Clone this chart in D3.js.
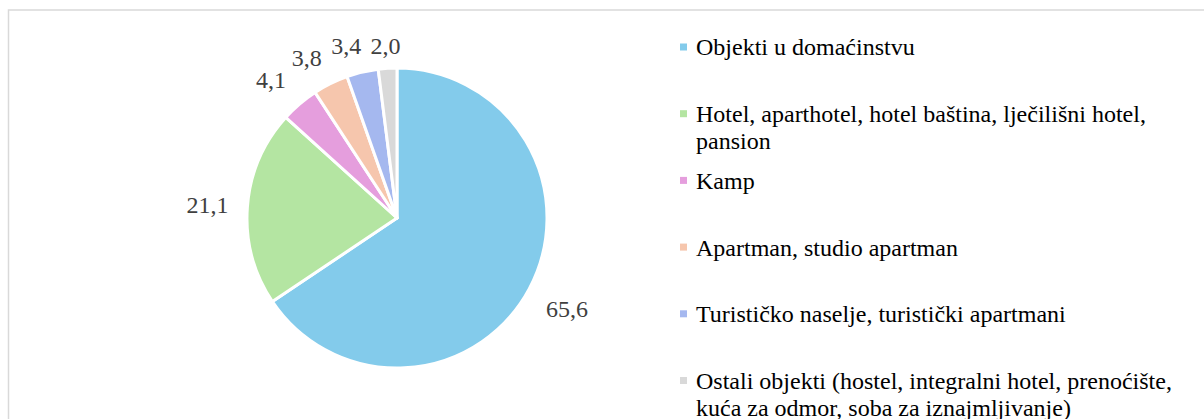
<!DOCTYPE html>
<html>
<head>
<meta charset="utf-8">
<script src="https://cdn.jsdelivr.net/npm/d3@7"></script>
<style>
  body { margin: 0; background: #fff; }
  svg { display: block; }
  .label { font-family: "Liberation Serif", "Times New Roman", serif; font-size: 24px; fill: #404040; }
  .legend text { font-family: "Liberation Serif", "Times New Roman", serif; font-size: 24px; fill: #000; }
</style>
</head>
<body>
<div id="chart"></div>
<script>
// data
const categories = [
  "Objekti u domaćinstvu",
  "Hotel, aparthotel, hotel baština, lječilišni hotel, pansion",
  "Kamp",
  "Apartman, studio apartman",
  "Turističko naselje, turistički apartmani",
  "Ostali objekti (hostel, integralni hotel, prenoćište, kuća za odmor, soba za iznajmljivanje)"
];
const values = [65.6, 21.1, 4.1, 3.8, 3.4, 2.0];
const colours = ["#83CBEB", "#B4E5A2", "#E59EDD", "#F6C6AD", "#A5B8EF", "#D9D9D9"];

const W = 1204, H = 419;
const cx = 397, cy = 218, R = 150;

const svg = d3.select("#chart").append("svg")
  .attr("width", W)
  .attr("height", H);

// frame (goes past right/bottom edge like the reference)
svg.append("rect")
  .attr("x", 8.5).attr("y", 10)
  .attr("width", W + 50).attr("height", H + 50)
  .attr("fill", "none")
  .attr("stroke", "#D9D9D9")
  .attr("stroke-width", 1.5);

const color = d3.scaleOrdinal().domain(categories).range(colours);

const pie = d3.pie().sort(null).value(d => d.v);
const arcs = pie(categories.map((c, i) => ({ c: c, v: values[i] })));

const arc = d3.arc().innerRadius(0).outerRadius(R);

const g = svg.append("g").attr("transform", `translate(${cx}, ${cy})`);

g.selectAll("path")
  .data(arcs)
  .enter()
  .append("path")
  .attr("d", arc)
  .attr("fill", d => color(d.data.c))
  .attr("stroke", "#fff")
  .attr("stroke-width", 3)
  .attr("stroke-linejoin", "round");

// labels outside end (box edge sits a gap away from the rim),
// kept under the top of the plot and nudged so they don't bump into each other
const fmt = v => d3.format(".1f")(v).replace(".", ",");
const gap = 19, boxH = 27, labelTop = 32 - cy;

const labels = g.selectAll(".label")
  .data(arcs)
  .enter()
  .append("text")
  .attr("class", "label")
  .attr("text-anchor", "middle")
  .attr("dy", "0.35em")
  .text(d => fmt(d.data.v));

function place(ang, w) {
  const s = Math.sin(ang), c = -Math.cos(ang);
  const ext = Math.min(
    Math.abs(s) > 1e-6 ? (w / 2) / Math.abs(s) : Infinity,
    Math.abs(c) > 1e-6 ? (boxH / 2) / Math.abs(c) : Infinity);
  const d = R + gap + ext;
  return [s * d, Math.max(c * d, labelTop + boxH / 2)];
}

const boxes = [];
const nodes = labels.nodes();
// go from the last slice backwards so the small ones push each other counter-clockwise
for (let i = arcs.length - 1; i >= 0; i--) {
  const d = arcs[i];
  const w = nodes[i].getComputedTextLength();
  let ang = (d.startAngle + d.endAngle) / 2;
  let p = place(ang, w);
  const hit = (p) => boxes.some(b =>
    Math.abs(p[0] - b.x) < (w + b.w) / 2 + 9 &&
    Math.abs(p[1] - b.y) < 22);
  let n = 0;
  while (hit(p) && n < 300) {
    ang -= Math.PI / 720;
    p = place(ang, w);
    n++;
  }
  boxes.push({ x: p[0], y: p[1], w: w });
  d3.select(nodes[i]).attr("x", p[0]).attr("y", p[1]);
}

// legend
const legX = 680, legTop = 47, rowStep = 66.7, lineH = 26.7, wrapW = 490;

const legend = svg.append("g").attr("class", "legend");

const items = legend.selectAll("g")
  .data(categories)
  .enter()
  .append("g")
  .attr("transform", (d, i) => `translate(${legX}, ${legTop + i * rowStep})`);

items.append("rect")
  .attr("x", 0).attr("y", -3.5)
  .attr("width", 7).attr("height", 7)
  .attr("fill", d => color(d));

items.append("text")
  .attr("x", 16)
  .attr("y", 0)
  .attr("dy", "0.35em")
  .text(d => d)
  .call(wrap, wrapW);

function wrap(text, width) {
  text.each(function() {
    var text = d3.select(this),
        words = text.text().split(/\s+/).reverse(),
        word,
        line = [],
        lineNumber = 0,
        x = text.attr("x"),
        tspan = text.text(null).append("tspan").attr("x", x).attr("y", 0).attr("dy", "0.35em");

    while (word = words.pop()) {
      line.push(word);
      tspan.text(line.join(" "));
      if (tspan.node().getComputedTextLength() > width) {
        line.pop();
        tspan.text(line.join(" "));
        line = [word];
        lineNumber++;
        tspan = text.append("tspan").attr("x", x).attr("y", lineNumber * lineH).attr("dy", "0.35em").text(word);
      }
    }
  });
}
</script>
</body>
</html>
